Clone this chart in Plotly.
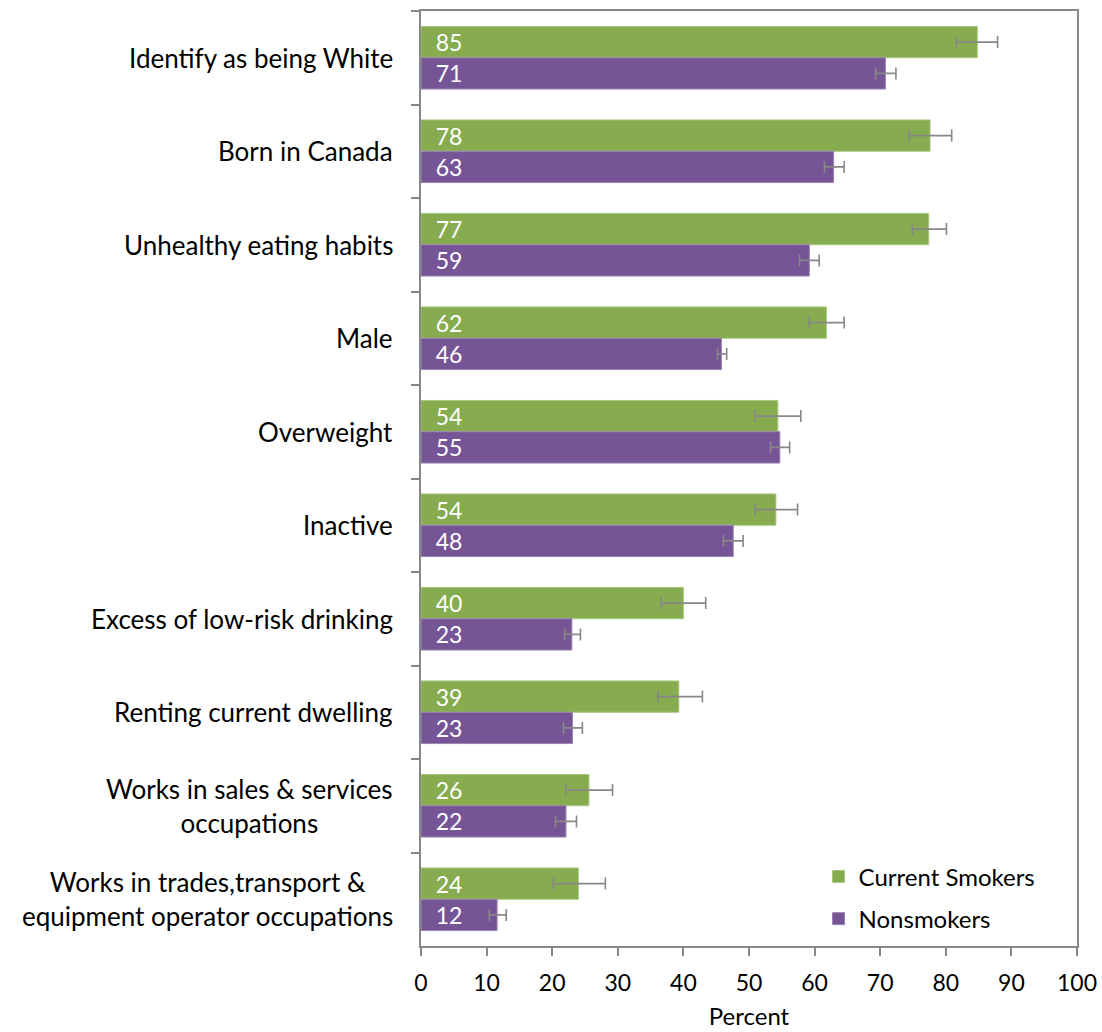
import plotly.graph_objects as go

categories = [
    "Identify as being White",
    "Born in Canada",
    "Unhealthy eating habits",
    "Male",
    "Overweight",
    "Inactive",
    "Excess of low-risk drinking",
    "Renting current dwelling",
    "Works in sales & services<br>occupations",
    "Works in trades,transport &<br>equipment operator occupations",
]

smokers = [84.8, 77.6, 77.4, 61.8, 54.4, 54.1, 40.0, 39.3, 25.6, 24.0]
smokers_hi = [87.9, 80.9, 80.1, 64.5, 57.9, 57.4, 43.4, 42.9, 29.2, 28.1]
smokers_lo = [81.6, 74.4, 74.9, 59.2, 50.9, 50.9, 36.6, 36.1, 22.1, 20.2]

nonsmokers = [70.8, 62.9, 59.2, 45.8, 54.7, 47.6, 23.0, 23.1, 22.1, 11.6]
nonsmokers_hi = [72.4, 64.5, 60.7, 46.6, 56.2, 49.1, 24.3, 24.6, 23.7, 13.0]
nonsmokers_lo = [69.3, 61.5, 57.7, 45.2, 53.3, 46.1, 21.9, 21.7, 20.5, 10.4]

x_ticks = list(range(0, 101, 10))

GREEN = "#86AC4F"
PURPLE = "#765596"
GRAY = "#878787"
FONT = "Lato"

def err(v, hi, lo):
    return dict(type="data", symmetric=False,
                array=[h - a for a, h in zip(v, hi)],
                arrayminus=[a - l for a, l in zip(v, lo)],
                color=GRAY, thickness=1.6, width=6)

fig = go.Figure()
fig.add_trace(go.Bar(
    name="Current Smokers", y=categories, x=smokers, orientation="h",
    marker=dict(color=GREEN, line=dict(color="#A9C77F", width=1)),
    error_x=err(smokers, smokers_hi, smokers_lo),
    texttemplate="\u00a0\u00a0%{x:.0f}", textposition="inside", insidetextanchor="start",
    textfont=dict(color="white", size=23, family=FONT),
    legendgroup="a",
))
fig.add_trace(go.Bar(
    name="Nonsmokers", y=categories, x=nonsmokers, orientation="h",
    marker=dict(color=PURPLE, line=dict(color="#9A84B3", width=1)),
    error_x=err(nonsmokers, nonsmokers_hi, nonsmokers_lo),
    texttemplate="\u00a0\u00a0%{x:.0f}", textposition="inside", insidetextanchor="start",
    textfont=dict(color="white", size=23, family=FONT),
    legendgroup="b",
))

for c in categories:
    fig.add_annotation(
        text=c, xref="paper", x=0, xanchor="right", xshift=-26,
        yref="y", y=c, yanchor="middle", align="center", showarrow=False,
        font=dict(size=26, family=FONT, color="black"),
    )

fig.update_layout(
    width=1102, height=1032,
    margin=dict(l=421, r=25, t=11, b=86),
    barmode="group", bargap=0.33, bargroupgap=0,
    plot_bgcolor="white", paper_bgcolor="white",
    font=dict(family=FONT, size=22, color="black"),
    uniformtext=dict(minsize=23, mode="show"),
    showlegend=True,
    legend=dict(x=0.606, y=0.098, xanchor="left", yanchor="top",
                bgcolor="rgba(0,0,0,0)", traceorder="grouped", tracegroupgap=8,
                font=dict(size=24, family=FONT)),
    xaxis=dict(range=[0, 100], tickvals=x_ticks, ticks="outside", ticklen=8,
               tickcolor=GRAY, tickwidth=1.6, showline=True, linecolor=GRAY, linewidth=1.6,
               mirror=True, showgrid=False, zeroline=False, ticklabelstandoff=8,
               title=dict(text="Percent", font=dict(size=24, family=FONT), standoff=13),
               tickfont=dict(size=23, family=FONT), automargin=False),
    yaxis=dict(autorange="reversed", showticklabels=False, ticks="outside",
               tickson="boundaries", ticklen=8, tickcolor=GRAY, tickwidth=1.6, showline=True,
               linecolor=GRAY, linewidth=1.6, mirror=True, showgrid=False),
)

fig.write_html("out.html", config={"displayModeBar": False},
               post_script="document.body.style.margin='0px';")
